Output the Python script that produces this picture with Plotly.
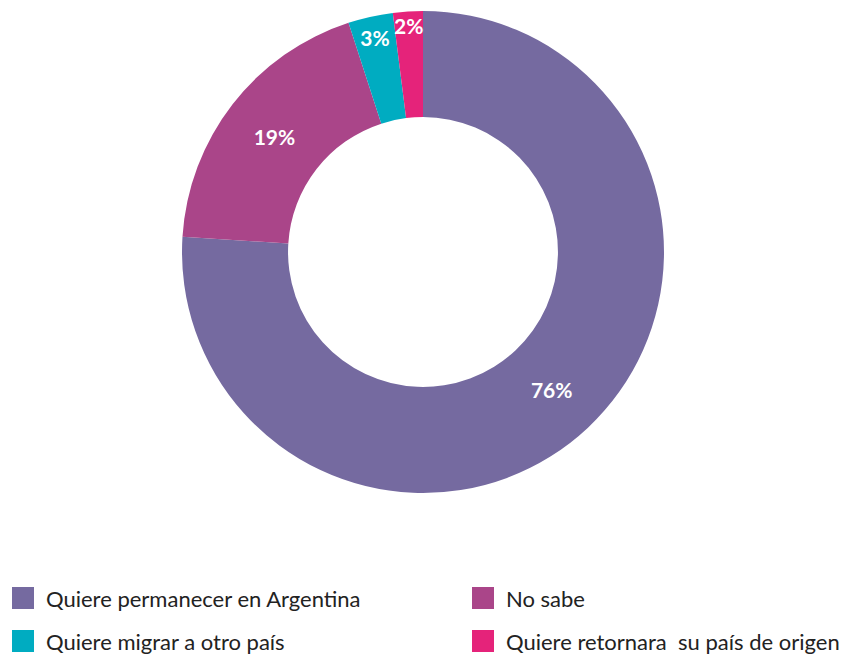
import plotly.graph_objects as go

labels = ["Quiere permanecer en Argentina", "No sabe", "Quiere migrar a otro país", "Quiere retornara  su país de origen"]
values = [76, 19, 3, 2]
colors = ["#756aa0", "#aa4589", "#00acc1", "#e5237a"]

# The page body has an 8px margin; size the figure so it fits the 848x655 window.
OFF = 8
W, H = 848 - OFF, 655 - OFF

def px(x):
    return (x - OFF) / W

def py(y):
    return 1 - (y - OFF) / H

fig = go.Figure()
fig.add_trace(go.Pie(
    labels=labels,
    values=values,
    hole=0.56,
    sort=False,
    direction="clockwise",
    rotation=0,
    marker=dict(colors=colors),
    texttemplate="%{value}%",
    textposition="inside",
    insidetextorientation="horizontal",
    textfont=dict(family="Lato", size=21, color="white", weight="bold"),
    domain=dict(x=[px(182), px(664)], y=[py(493), py(11)]),
    hoverinfo="skip",
    showlegend=False,
))

# Custom two-column legend (row-major: 2 entries per row)
col_x = [12, 472]      # left edge of the swatch (page px)
row_y = [598, 641]     # vertical centre of each row (page px)
sw = 22                # swatch size, px
shapes, annotations = [], []
for i, (lab, col) in enumerate(zip(labels, colors)):
    x0 = col_x[i % 2]
    yc = row_y[i // 2]
    shapes.append(dict(
        type="rect", xref="paper", yref="paper",
        x0=px(x0), x1=px(x0 + sw), y0=py(yc + sw / 2), y1=py(yc - sw / 2),
        fillcolor=col, line=dict(width=0),
    ))
    annotations.append(dict(
        text=lab, xref="paper", yref="paper",
        x=px(x0 + sw + 10), y=py(yc), xanchor="left", yanchor="middle",
        showarrow=False, font=dict(family="Lato", size=22, color="#222222"),
    ))

fig.update_layout(
    width=W, height=H,
    margin=dict(l=0, r=0, t=0, b=0),
    paper_bgcolor="white",
    uniformtext=dict(minsize=21, mode="show"),
    showlegend=False,
    shapes=shapes,
    annotations=annotations,
)

fig.write_html("out.html")
